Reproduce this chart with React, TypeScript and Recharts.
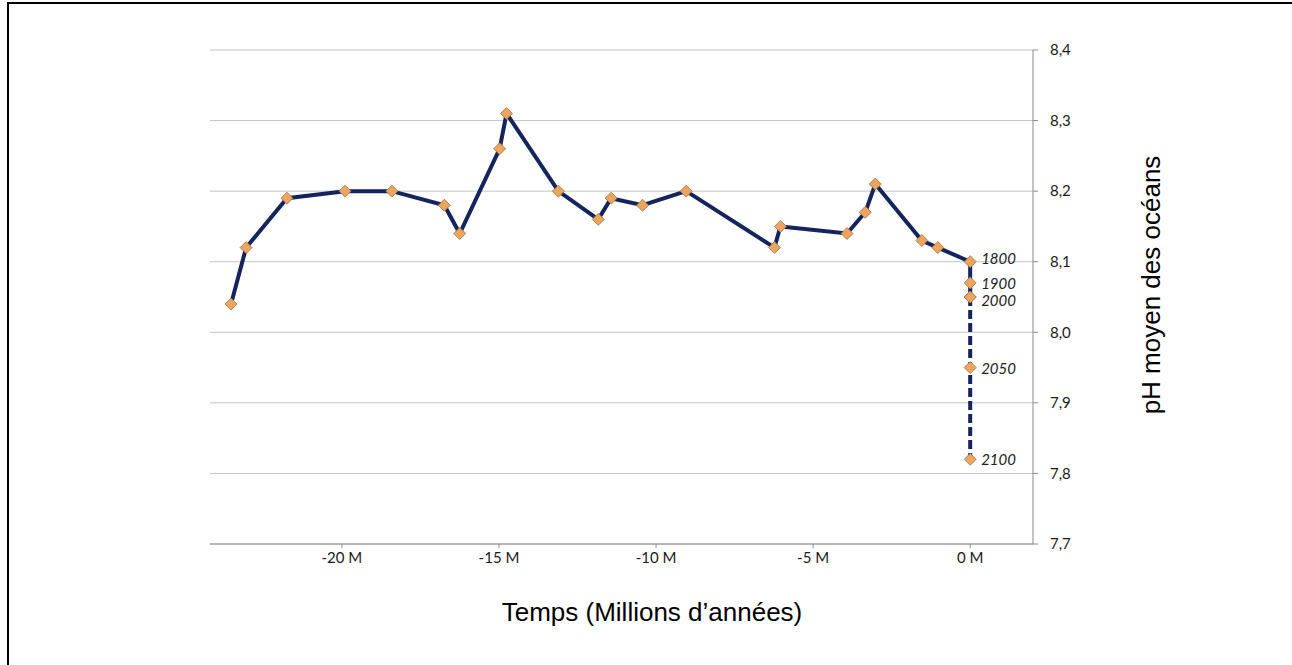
import React from "react";
import {
  CartesianGrid,
  LabelList,
  Line,
  LineChart,
  XAxis,
  YAxis,
} from "recharts";

// past record, age in millions of years (negative = before present)
const pastAgeMa = [
  -23.53, -23.05, -21.75, -19.9, -18.41, -16.74, -16.25, -14.98, -14.76,
  -13.11, -11.84, -11.43, -10.43, -9.04, -6.23, -6.04, -3.92, -3.34, -3.02,
  -1.54, -1.03,
];
const pastPh = [
  8.04, 8.12, 8.19, 8.2, 8.2, 8.18, 8.14, 8.26, 8.31, 8.2, 8.16, 8.19, 8.18,
  8.2, 8.12, 8.15, 8.14, 8.17, 8.21, 8.13, 8.12,
];

// recent and projected values, all at ~0 M on this scale
const recentYears = [1800, 1900, 2000, 2050, 2100];
const recentPh = [8.1, 8.07, 8.05, 7.95, 7.82];

const xTicks = [-20, -15, -10, -5, 0];
const yTicks = [7.7, 7.8, 7.9, 8.0, 8.1, 8.2, 8.3, 8.4];

const toMa = (year: number) => (year - 1800) / 1e6;

const measured = [
  ...pastAgeMa.map((x, i) => ({ x, ph: pastPh[i] })),
  ...recentYears.slice(0, 3).map((y, i) => ({ x: toMa(y), ph: recentPh[i] })),
];
const projected = recentYears
  .slice(2)
  .map((y, i) => ({ x: toMa(y), ph: recentPh[i + 2] }));
const yearLabels = recentYears.map((y, i) => ({
  x: toMa(y),
  ph: recentPh[i],
  year: String(y),
}));

const LINE = "#14245c";
// small vertical nudges so the stacked year labels don't collide
const nudge: Record<string, number> = { "1800": -4, "2000": 3 };

function Diamond(props: any) {
  const { cx, cy, index } = props;
  if (cx == null || cy == null) return <g key={index} />;
  const r = 6;
  return (
    <polygon
      key={index}
      points={`${cx},${cy - r} ${cx + r},${cy} ${cx},${cy + r} ${cx - r},${cy}`}
      fill="#eca55e"
      stroke="#9a7448"
      strokeWidth={0.8}
    />
  );
}

function YearLabel(props: any) {
  const { x, y, value } = props;
  return (
    <text
      x={x + 11}
      y={y + (nudge[value] ?? 0)}
      dominantBaseline="central"
      fill="#222"
      fontSize={15}
      fontStyle="italic"
      fontFamily="Lato"
    >
      {value}
    </text>
  );
}

const titleFont = "'Liberation Sans', Arial, sans-serif";

export default function App() {
  return (
    <div
      style={{
        position: "fixed",
        left: 0,
        top: 0,
        width: 1292,
        height: 665,
        background: "#fff",
        overflow: "hidden",
      }}
    >
      <div
        style={{
          position: "absolute",
          left: 7,
          top: 2,
          width: 1400,
          height: 800,
          borderTop: "2px solid #000",
          borderLeft: "2px solid #000",
        }}
      />
      <LineChart
        width={1292}
        height={665}
        margin={{ top: 50, left: 210, right: 199, bottom: 91 }}
        style={{ position: "absolute", left: 0, top: 0 }}
      >
        <CartesianGrid vertical={false} stroke="#c4c4c4" />
        <XAxis
          type="number"
          dataKey="x"
          domain={[-24.2, 2]}
          ticks={xTicks}
          tickFormatter={(v) => `${v} M`}
          allowDataOverflow
          height={30}
          stroke="#8a8a8a"
          tickSize={4}
          tickMargin={4}
          tick={{ fill: "#1a1a1a", fontSize: 15, fontFamily: "Lato" }}
        />
        <YAxis
          orientation="right"
          type="number"
          domain={[7.7, 8.4]}
          ticks={yTicks}
          tickFormatter={(v) => v.toFixed(1).replace(".", ",")}
          width={60}
          stroke="#8a8a8a"
          tickSize={5}
          tickMargin={12}
          tick={{ fill: "#1a1a1a", fontSize: 15, fontFamily: "Lato" }}
        />
        <Line
          data={measured}
          dataKey="ph"
          type="linear"
          stroke={LINE}
          strokeWidth={4}
          dot={(p: any) => <Diamond {...p} />}
          activeDot={false}
          isAnimationActive={false}
        />
        <Line
          data={projected}
          dataKey="ph"
          type="linear"
          stroke={LINE}
          strokeWidth={4}
          strokeDasharray="9 4"
          dot={(p: any) => <Diamond {...p} />}
          activeDot={false}
          isAnimationActive={false}
        />
        <Line
          data={yearLabels}
          dataKey="ph"
          stroke="none"
          dot={false}
          activeDot={false}
          isAnimationActive={false}
        >
          <LabelList dataKey="year" content={(p: any) => <YearLabel {...p} />} />
        </Line>
      </LineChart>
      <div
        style={{
          position: "absolute",
          left: 652,
          top: 612,
          transform: "translate(-50%, -50%)",
          fontFamily: titleFont,
          fontSize: 26,
          color: "#000",
          whiteSpace: "nowrap",
        }}
      >
        Temps (Millions d’années)
      </div>
      <div
        style={{
          position: "absolute",
          left: 1151,
          top: 285,
          transform: "translate(-50%, -50%) rotate(-90deg)",
          fontFamily: titleFont,
          fontSize: 26,
          color: "#000",
          whiteSpace: "nowrap",
        }}
      >
        pH moyen des océans
      </div>
    </div>
  );
}
